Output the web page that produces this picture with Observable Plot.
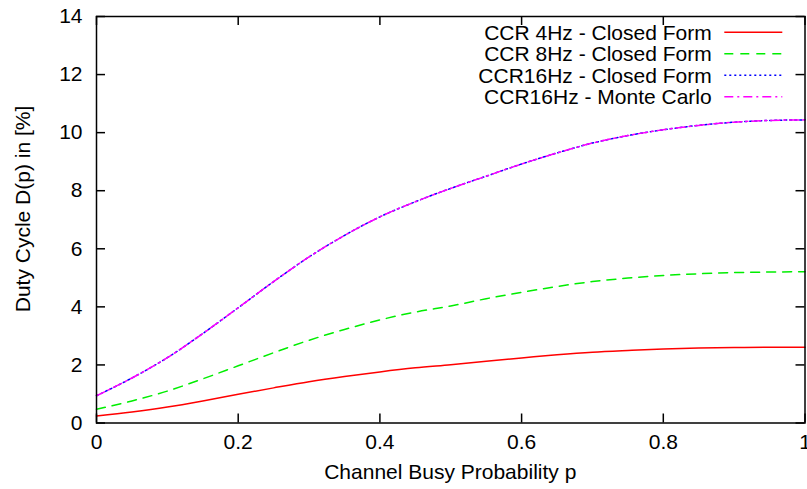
<!DOCTYPE html>
<html>
<head>
<meta charset="utf-8">
<script src="https://cdn.jsdelivr.net/npm/d3@7"></script>
<script src="https://cdn.jsdelivr.net/npm/@observablehq/plot@0.6"></script>
<style>
  html, body { margin: 0; padding: 0; background: #fff; }
  #chart { width: 807px; height: 489px; overflow: hidden; }
  svg { font-family: "Liberation Sans", Arial, Helvetica, sans-serif; }
</style>
</head>
<body>
<div id="chart"></div>
<script>
// Channel busy probability p
const pValues = [0, 0.05, 0.1, 0.15, 0.2, 0.25, 0.3, 0.35, 0.4, 0.45, 0.5, 0.55, 0.6, 0.65, 0.7, 0.75, 0.8, 0.85, 0.9, 0.95, 1.0];
// Duty cycle [%]
const ccr4Closed  = [0.24, 0.38, 0.55, 0.76, 0.99, 1.21, 1.42, 1.60, 1.76, 1.90, 2.01, 2.13, 2.24, 2.35, 2.44, 2.50, 2.55, 2.58, 2.60, 2.61, 2.61];
const ccr8Closed  = [0.47, 0.76, 1.10, 1.52, 1.97, 2.42, 2.85, 3.22, 3.55, 3.82, 4.03, 4.28, 4.50, 4.70, 4.87, 4.99, 5.08, 5.14, 5.18, 5.20, 5.21];
const ccr16Closed = [0.94, 1.55, 2.25, 3.08, 3.97, 4.87, 5.72, 6.46, 7.10, 7.62, 8.08, 8.50, 8.92, 9.30, 9.64, 9.90, 10.10, 10.25, 10.36, 10.42, 10.44];
const ccr16MC     = [0.94, 1.55, 2.25, 3.08, 3.97, 4.87, 5.72, 6.46, 7.10, 7.62, 8.08, 8.50, 8.92, 9.30, 9.64, 9.90, 10.10, 10.25, 10.36, 10.42, 10.44];

const seriesNames = ["CCR 4Hz - Closed Form", "CCR 8Hz - Closed Form", "CCR16Hz - Closed Form", "CCR16Hz - Monte Carlo"];
const seriesValues = [ccr4Closed, ccr8Closed, ccr16Closed, ccr16MC];
const seriesColors = ["#ff0000", "#00ee00", "#0000ff", "#ff00ff"];
const seriesDash = [null, "9,7", "2,3", "9,4,2,4"];

const xTicks = [0, 0.2, 0.4, 0.6, 0.8, 1];
const yTicks = [0, 2, 4, 6, 8, 10, 12, 14];

const W = 807, H = 489;
const mL = 96, mR = 2.5, mT = 16, mB = 66.5;
const plotW = W - mL - mR, plotH = H - mT - mB;
const tickLen = 9;
const fontSize = 21;

const series = seriesNames.map((name, i) => ({
  name, color: seriesColors[i], dash: seriesDash[i],
  data: pValues.map((p, j) => ({p, v: seriesValues[i][j]}))
}));

const lineMarks = series.map(s => Plot.line(s.data, {
  x: "p", y: "v", stroke: s.color, strokeWidth: 1.5,
  strokeDasharray: s.dash, curve: "monotone-x"
}));

const chart = Plot.plot({
  width: W, height: H,
  marginLeft: mL, marginRight: mR, marginTop: mT, marginBottom: mB,
  style: {fontSize: fontSize + "px", fontFamily: '"Liberation Sans", Arial, Helvetica, sans-serif', background: "white", color: "black", overflow: "visible"},
  x: {domain: [0, 1]},
  y: {domain: [0, 14]},
  marks: [
    ...lineMarks,
    Plot.axisX(xTicks, {tickSize: 0, tickPadding: 11, label: null, tickFormat: d => String(+d.toFixed(1)), fontSize: fontSize}),
    Plot.axisY(yTicks, {tickSize: 0, tickPadding: 14, label: null, fontSize: fontSize}),
    // inward ticks on all four sides
    Plot.tickY(yTicks, {y: d => d, insetRight: plotW - tickLen, stroke: "black", strokeWidth: 1.5}),
    Plot.tickY(yTicks, {y: d => d, insetLeft: plotW - tickLen, stroke: "black", strokeWidth: 1.5}),
    Plot.tickX(xTicks, {x: d => d, insetTop: plotH - tickLen, stroke: "black", strokeWidth: 1.5}),
    Plot.tickX(xTicks, {x: d => d, insetBottom: plotH - tickLen, stroke: "black", strokeWidth: 1.5}),
    Plot.frame({stroke: "black", strokeWidth: 1.5})
  ]
});

document.getElementById("chart").appendChild(chart);

const svg = d3.select(chart);
// axis titles
svg.append("text")
  .attr("x", mL + plotW / 2).attr("y", 478.5)
  .attr("text-anchor", "middle").attr("font-size", fontSize).attr("fill", "black")
  .text("Channel Busy Probability p");
svg.append("text")
  .attr("transform", "translate(29.5,209) rotate(-90)")
  .attr("text-anchor", "middle").attr("font-size", fontSize).attr("fill", "black")
  .text("Duty Cycle D(p) in [%]");

// legend (top-right, inside)
const leg = svg.append("g");
series.forEach((s, i) => {
  const cy = 32.3 + i * 21.5;
  leg.append("text")
    .attr("x", 711.7).attr("y", cy + 7.5)
    .attr("text-anchor", "end").attr("font-size", fontSize).attr("fill", "black")
    .text(s.name);
  leg.append("line")
    .attr("x1", 724.3).attr("x2", 782.3).attr("y1", cy).attr("y2", cy)
    .attr("stroke", s.color).attr("stroke-width", 1.5)
    .attr("stroke-dasharray", s.dash);
});
</script>
</body>
</html>
